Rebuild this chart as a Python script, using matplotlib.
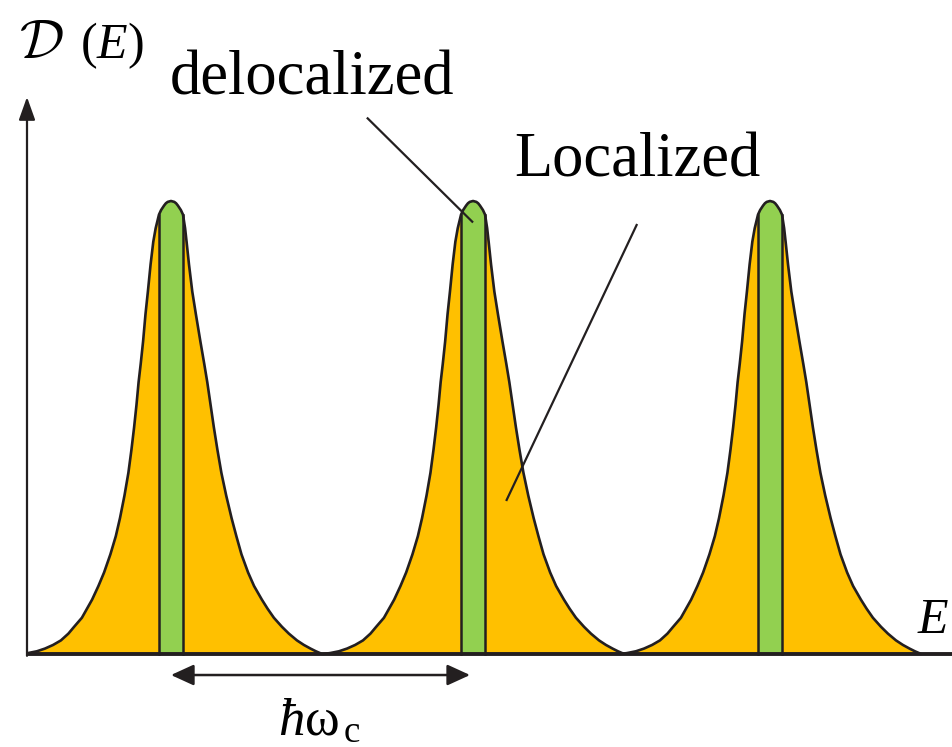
import numpy as np
import matplotlib.pyplot as plt
from matplotlib.patches import Rectangle

plt.rcParams['font.family'] = ['Liberation Serif', 'DejaVu Serif']
plt.rcParams['mathtext.fontset'] = 'custom'
plt.rcParams['mathtext.rm'] = 'Liberation Serif'
plt.rcParams['mathtext.it'] = 'Liberation Serif:italic'
plt.rcParams['mathtext.cal'] = 'cmsy10'

# Landau level centres, in units of hbar*omega_c
peak_centers = [0.0, 1.007, 1.997]

# one broadened level: height (fraction of peak)
# and the left / right edge of the curve relative to the centre
profile_h = [0.0, 0.002, 0.006, 0.012, 0.02, 0.03, 0.045, 0.06, 0.08, 0.10,
             0.12, 0.15, 0.18, 0.22, 0.26, 0.30, 0.35, 0.40, 0.45, 0.50,
             0.55, 0.60, 0.64, 0.69, 0.75, 0.80, 0.86, 0.91, 0.94, 0.97,
             0.98, 0.99, 0.995, 0.998, 1.0]
profile_left = [-0.500, -0.477, -0.447, -0.420, -0.393, -0.367, -0.342, -0.323,
                -0.297, -0.280, -0.263, -0.242, -0.223, -0.202, -0.184, -0.170,
                -0.155, -0.142, -0.132, -0.123, -0.115, -0.108, -0.101, -0.093,
                -0.085, -0.077, -0.068, -0.059, -0.051, -0.040, -0.033, -0.023,
                -0.017, -0.011, 0.0]
profile_right = [0.503, 0.497, 0.483, 0.465, 0.443, 0.420, 0.393, 0.370,
                 0.343, 0.322, 0.303, 0.277, 0.257, 0.235, 0.218, 0.202,
                 0.184, 0.168, 0.155, 0.143, 0.132, 0.121, 0.111, 0.098,
                 0.083, 0.071, 0.060, 0.052, 0.047, 0.040, 0.033, 0.023,
                 0.017, 0.011, 0.0]
strip_half = 0.040  # half width of the delocalized (extended) states band

orange = '#FFC000'
green = '#92D050'
ink = '#231F20'

fig = plt.figure(figsize=(9.53, 7.47), dpi=100)
ax = fig.add_axes([0, 0, 1, 1])
ax.set_xlim(-0.57, 2.607)
ax.set_ylim(-0.2053, 1.4437)
ax.axis('off')

axis_x = -0.48
clip = Rectangle((axis_x, -1), 10, 10, transform=ax.transData)

h = np.array(profile_h)
left = np.array(profile_left)
right = np.array(profile_right)

for c in peak_centers:
    xs = np.concatenate([c + left, c + right[::-1][1:]])
    ys = np.concatenate([h, h[::-1][1:]])
    f = ax.fill(xs, ys, color=orange, lw=0, zorder=2)[0]
    f.set_clip_path(clip)

    # green band of extended states
    inner = np.abs(left) <= strip_half
    gx = np.concatenate([[c - strip_half], c + left[inner],
                         (c + right[inner])[::-1][1:], [c + strip_half]])
    gy = np.concatenate([[0], h[inner], h[inner][::-1][1:], [0]])
    ax.fill(gx, gy, color=green, lw=0, zorder=3)
    top = h[inner][0]
    ax.plot([c - strip_half, c - strip_half], [0, top], color=ink, lw=1.8, zorder=4)
    ax.plot([c + strip_half, c + strip_half], [0, top], color=ink, lw=1.8, zorder=4)

    line, = ax.plot(xs, ys, color=ink, lw=1.9, zorder=5,
                    solid_joinstyle='round', solid_capstyle='round')
    line.set_clip_path(clip)

# axes
ax.plot([axis_x, 2.607], [0, 0], color=ink, lw=2.8, zorder=6, solid_capstyle='butt')
ax.annotate('', xy=(axis_x, 1.2296), xytext=(axis_x, -0.004),
            arrowprops=dict(arrowstyle='-|>,head_length=0.7,head_width=0.25',
                            color=ink, lw=1.6, shrinkA=0, shrinkB=0,
                            mutation_scale=20), zorder=6)

# spacing arrow
ax.annotate('', xy=(peak_centers[1] - 0.01, -0.0464), xytext=(peak_centers[0], -0.0464),
            arrowprops=dict(arrowstyle='<|-|>,head_length=0.7,head_width=0.32',
                            color=ink, lw=1.8, shrinkA=0, shrinkB=0,
                            mutation_scale=20))

# labels
ax.text(-0.507, 1.3157, r'$\mathcal{D}$', fontsize=40, va='baseline', ha='left')
ax.text(-0.303, 1.3157, r'$(E)$', fontsize=36, va='baseline', ha='left')
ax.text(2.4857, 0.0457, r'$E$', fontsize=36, va='baseline', ha='left')
ax.text(0.3567, -0.1788, r'$\hbar\mathrm{\omega}_{\,\mathrm{c}}$', fontsize=38,
        va='baseline', ha='left')
ax.text(-0.0033, 1.234, 'delocalized', fontsize=45, va='baseline', ha='left')
ax.text(1.1433, 1.053, 'Localized', fontsize=45, va='baseline', ha='left')

# leader lines
ax.plot([0.6557, 1.0043], [1.1824, 0.9543], color=ink, lw=1.6, zorder=7)
ax.plot([1.5523, 1.119], [0.947, 0.34], color=ink, lw=1.6, zorder=7)

fig.savefig('out.png', dpi=100)
